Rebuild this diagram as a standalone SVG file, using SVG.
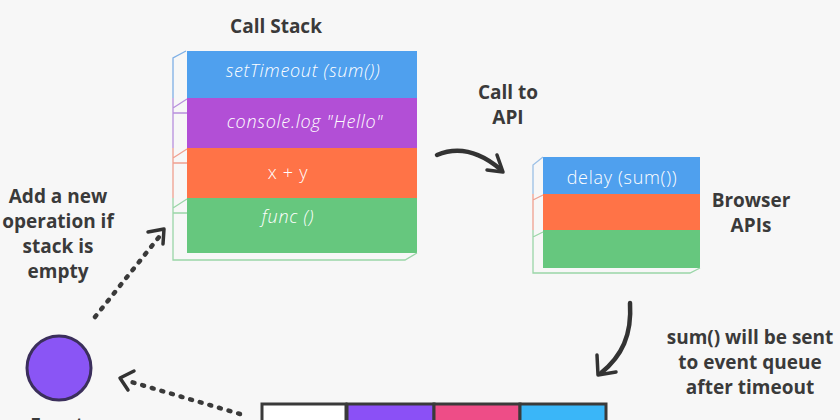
<svg xmlns="http://www.w3.org/2000/svg" width="840" height="420" viewBox="0 0 840 420">
<style>
.lbl{font-family:"Open Sans","Noto Sans",sans-serif;font-weight:700;font-size:19px;fill:#3a3a3a;text-anchor:middle}
.band{font-family:"Open Sans","Noto Sans",sans-serif;font-weight:300;font-size:18px;letter-spacing:0.7px;fill:#ffffff;text-anchor:middle}
.it{font-style:italic}
.edge{fill:none;stroke-width:1.3}
.solid{fill:none;stroke:#333333;stroke-width:4.5;stroke-linecap:round;stroke-linejoin:round}
.dots{fill:none;stroke:#3a3a3a;stroke-width:4.5;stroke-linecap:round;stroke-dasharray:2 8}
.head{fill:none;stroke:#333333;stroke-width:3.5;stroke-linecap:round;stroke-linejoin:round}
.q{stroke:#3a3a3a;stroke-width:3}
</style>
<rect width="840" height="420" fill="#f7f7f7"/>

<g id="call-stack">
  <text class="lbl" x="276" y="33" font-size="22">Call Stack</text>
  <rect x="187" y="51" width="230" height="47" fill="#4fa0ee"/>
  <rect x="187" y="98" width="230" height="50" fill="#b24fd6"/>
  <rect x="187" y="148" width="230" height="50" fill="#ff7347"/>
  <rect x="187" y="198" width="230" height="55" fill="#66c77e"/>
  <path class="edge" stroke="#7fb0e6" d="M186,51 L173,58 L173,98"/>
  <path class="edge" stroke="#b890dd" d="M173,98 L173,148 M173,108 L187,99 M173,113 L187,113"/>
  <path class="edge" stroke="#f0a090" d="M173,148 L173,198 M173,158 L187,149 M173,163 L187,163"/>
  <path class="edge" stroke="#9ad6a8" d="M173,198 L173,260 L405,260 L417,253 M173,208 L187,199 M173,213 L187,213"/>
  <text class="band it" x="303" y="77">setTimeout (sum())</text>
  <text class="band it" x="305" y="128">console.log "Hello"</text>
  <text class="band" x="288" y="179">x + y</text>
  <text class="band it" x="288" y="223">func ()</text>
</g>

<g id="browser-apis">
  <rect x="543" y="157" width="157" height="37" fill="#4fa0ee"/>
  <rect x="543" y="194" width="157" height="36" fill="#ff7347"/>
  <rect x="543" y="230" width="157" height="38" fill="#66c77e"/>
  <path class="edge" stroke="#9cc0e6" d="M543,157 L533,165 L533,194"/>
  <path class="edge" stroke="#f0a090" d="M533,194 L533,230 M533,200 L543,195"/>
  <path class="edge" stroke="#9ad6a8" d="M533,230 L533,273 L690,273 L700,268 M533,237 L543,232"/>
  <text class="band" x="622" y="184">delay (sum())</text>
  <text class="lbl" x="751" y="207">Browser</text>
  <text class="lbl" x="751" y="232">APIs</text>
</g>

<g id="event-loop">
  <circle cx="59" cy="368" r="32" fill="#8a55f5" stroke="#3b2f5c" stroke-width="3"/>
  <text class="lbl" x="57" y="432">Event</text>
</g>

<g id="event-queue">
  <rect class="q" x="262" y="404" width="84" height="30" fill="#ffffff"/>
  <rect class="q" x="347" y="404" width="87" height="30" fill="#8b50f6"/>
  <rect class="q" x="434" y="404" width="86" height="30" fill="#ee4d87"/>
  <rect class="q" x="520" y="404" width="86" height="30" fill="#3ab6f8"/>
</g>

<g id="labels">
  <text class="lbl" x="508" y="99">Call to</text>
  <text class="lbl" x="508" y="124">API</text>
  <text class="lbl" x="58" y="203">Add a new</text>
  <text class="lbl" x="58" y="228">operation if</text>
  <text class="lbl" x="58" y="253">stack is</text>
  <text class="lbl" x="58" y="278">empty</text>
  <text class="lbl" x="750" y="344">sum() will be sent</text>
  <text class="lbl" x="750" y="369">to event queue</text>
  <text class="lbl" x="750" y="394">after timeout</text>
</g>

<g id="connectors">
  <path class="solid" d="M437,155 Q468,142 500,169"/>
  <path class="head" d="M487,170 L503,172 L497,155"/>
  <path class="solid" d="M630,303 C632,335 622,356 601,373"/>
  <path class="head" d="M597,355 L598,375 L616,372"/>
  <path class="dots" d="M95,317 L159,237"/>
  <path class="head" d="M148,232 L164,229 L163,244"/>
  <path class="dots" d="M240,414 L128,381"/>
  <path class="head" d="M134,371 L120,378 L128,390"/>
</g>
</svg>
